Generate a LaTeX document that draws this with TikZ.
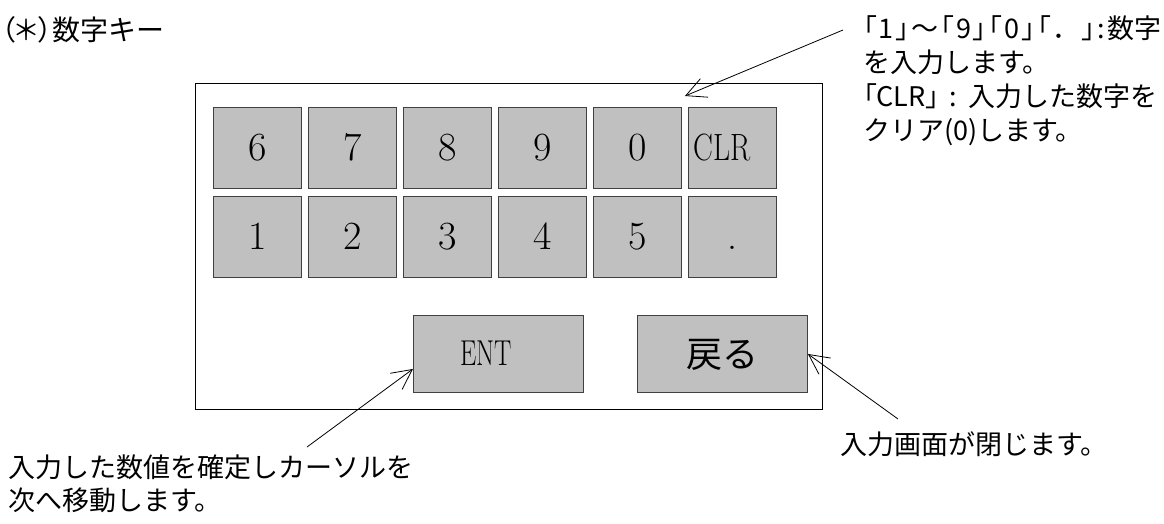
\documentclass[tikz,border=0pt]{standalone}
\usepackage{fontspec}
\newfontfamily\jp{Noto Sans CJK JP}
\newfontfamily\jpp[RawFeature=+palt]{Noto Sans CJK JP}
\usetikzlibrary{arrows.meta,calc}
\definecolor{keygray}{HTML}{C0C0C0}
\definecolor{keyline}{HTML}{404040}
\begin{document}
\begin{tikzpicture}[x=1pt,y=-1pt,
  keybox/.style={draw=keyline, fill=keygray, line width=0.9pt, minimum width=88pt, minimum height=81pt,
    inner sep=0pt, anchor=north west, text height=26pt, text depth=0pt, font=\fontsize{40}{40}\selectfont},
  bigkey/.style={keybox, minimum width=170pt, minimum height=77pt},
  panel/.style={draw=black, line width=1pt, fill=white},
  note/.style={font=\jp\fontsize{27}{34}\selectfont, inner sep=0pt, anchor=base west},
  arr/.style={draw=black, line width=0.8pt, -{Straight Barb[length=20pt,width=20pt,line width=0.8pt]}}]
\useasboundingbox (0,0) rectangle (1164,523);
\clip (0,0) rectangle (1164,523);
% panel
\node[panel, anchor=north west, minimum width=627pt, minimum height=326pt, inner sep=0pt] (panel) at (195,83) {};
% row 1
\node[keybox] (k6) at (213,107) {6};
\node[keybox] (k7) at (308,107) {7};
\node[keybox] (k8) at (403,107) {8};
\node[keybox] (k9) at (498,107) {9};
\node[keybox] (k0) at (593,107) {0};
\node[keybox] (kclr) at (688,107) {\hspace*{-20pt}\scalebox{0.78}[1]{\fontsize{38}{38}\selectfont CLR}};
% row 2
\node[keybox] (k1) at (213,196) {1};
\node[keybox] (k2) at (308,196) {2};
\node[keybox] (k3) at (403,196) {3};
\node[keybox] (k4) at (498,196) {4};
\node[keybox] (k5) at (593,196) {5};
\node[keybox] (kdot) at (688,196) {.};
% bottom keys
\node[bigkey, text height=24pt] (ent) at (413,315) {\hspace*{-24pt}\scalebox{0.72}[1]{\fontsize{36}{36}\selectfont ENT}};
\node[bigkey, text height=30pt, text depth=3pt] (back) at (637,315) {\jp\fontsize{36}{36}\selectfont 戻る};
% texts
\node[note, font=\jp\fontsize{28}{34}\selectfont] (title) at (1,40) {\jpp（＊）\jp 数字キー};
\node[note] (r1) at (863,38) {\makebox[298pt][s]{\jpp「\hfil 1\hfil 」\hfil \jp ～\hfil \jpp「\hfil 9\hfil 」\hfil 「\hfil 0\hfil 」\hfil 「\hfil \jp ．\jpp\hfil 」\hfil :\hfil \jp 数字}};
\node[note] (r2) at (863,72) {を入力します。};
\node[note] (r3) at (863,106) {\makebox[294pt][s]{\jpp「CLR」\hfil :\hfil \jp 入力した数字を}};
\node[note] (r4) at (863,140) {クリア(0)します。};
\node[note] (b1) at (8,477) {入力した数値を確定しカーソルを};
\node[note] (b2) at (8,510) {次へ移動します。};
\node[note] (c1) at (840,454) {入力画面が閉じます。};
% connectors
\coordinate (topstart) at (843,30);
\coordinate (toptip) at ([yshift=11pt]$(k0.north east)!.5!(kclr.north west)$);
\coordinate (entstart) at (307,447);
\coordinate (enttip) at ([yshift=-15pt]ent.west);
\coordinate (backstart) at (898,419);
\draw[arr] (topstart) -- (toptip);
\draw[arr] (entstart) -- (enttip);
\draw[arr] (backstart) -- (back.east);
\end{tikzpicture}
\end{document}
